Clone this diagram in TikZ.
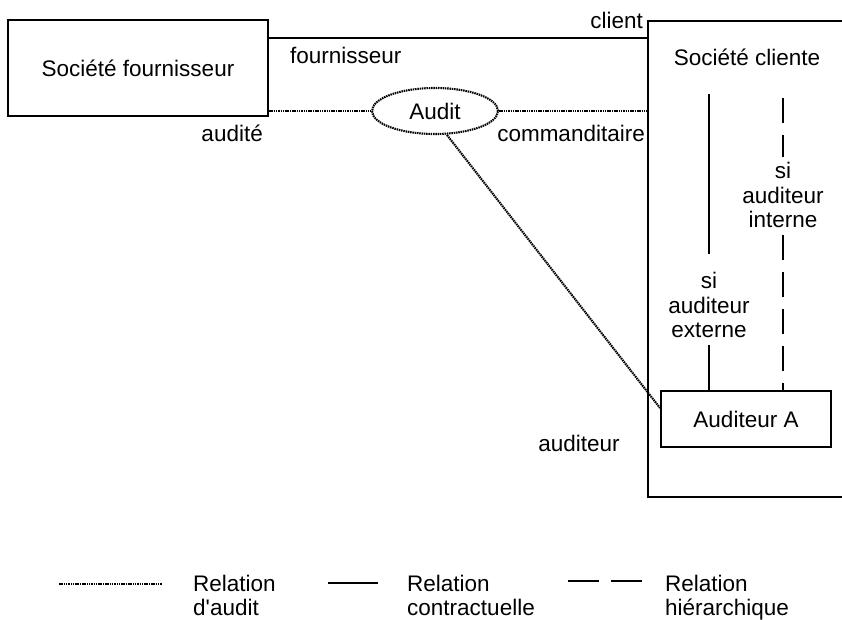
\documentclass[tikz,border=0pt]{standalone}
\usepackage{fontspec}
\setmainfont{Liberation Sans}
\usetikzlibrary{shapes.geometric,calc}
\begin{document}
\begin{tikzpicture}[x=1pt,y=-1pt,
  every node/.style={font=\fontsize{22.5}{24.5}\selectfont, text=black},
  box/.style={draw, line width=2pt, inner sep=0pt},
  contract/.style={line width=2pt},
  auditrel/.style={line width=2.1pt, dash pattern=on 1.5pt off 0.8pt},
  hier/.style={line width=2pt, dash pattern=on 25pt off 12pt},
  lbl/.style={inner sep=0pt},
  multi/.style={inner sep=0pt, align=center},
]
\useasboundingbox (0,0) rectangle (842,620);
\clip (0,0) rectangle (842,620);

% main nodes
\node[box, minimum width=260pt, minimum height=96pt] (four) at (138,68) {Société fournisseur};
\node[box, minimum width=212pt, minimum height=476pt] (cbox) at (754,259) {};
\node[lbl] (clabel) at (747,57) {Société cliente};
\node[ellipse, draw, auditrel, minimum width=126pt, minimum height=46pt, inner sep=0pt] (audit) at (435,111) {Audit};
\node[box, minimum width=170pt, minimum height=56pt] (audA) at (746,419) {Auditeur A};

% connectors
\coordinate (yc) at (0,38);
\coordinate (ya) at (0,111);
\draw[contract] (four.east |- yc) -- (cbox.west |- yc);
\draw[auditrel] (four.east |- ya) -- (audit.west);
\draw[auditrel] (audit.east) -- (cbox.west |- ya);
\draw[auditrel] ([xshift=12pt]audit.south) -- ([yshift=11pt]audA.west);

% role labels
\node[lbl, anchor=east] (lclient) at (643,20) {client};
\node[lbl, anchor=west] (lfour) at (290,55) {fournisseur};
\node[lbl, anchor=east] (laudite) at (263,133) {audité};
\node[lbl, anchor=east] (lcomm) at (645,133) {commanditaire};
\node[lbl] (lauditeur) at (579,443) {auditeur};

% vertical relations
\coordinate (topE) at (709,94);
\coordinate (topI) at (783,98);
\node[multi, anchor=north] (extA) at (709,272) {si\\auditeur\\externe};
\node[multi, anchor=north] (intA) at (783,162) {si\\auditeur\\interne};
\draw[contract] (topE) -- ([yshift=18pt]extA.north);
\draw[contract] ([yshift=-7pt]extA.south) -- (extA.south |- audA.north);
\draw[hier] (topI) -- ([yshift=5pt]intA.north);
\draw[hier] ([yshift=-7pt]intA.south) -- (intA.south |- audA.north);

% legend
\coordinate (d1) at (59,584);
\coordinate (d2) at (162,584);
\coordinate (c1) at (328,583);
\coordinate (c2) at (378,583);
\coordinate (h1) at (568,581);
\coordinate (h2) at (642,581);
\draw[auditrel] (d1) -- (d2);
\draw[contract] (c1) -- (c2);
\draw[line width=2pt, dash pattern=on 31pt off 12pt] (h1) -- (h2);
\begin{scope}[every node/.append style={font=\fontsize{22.5}{23.5}\selectfont}]
\node[multi, align=left, anchor=north west] (lg1) at (193,575) {Relation\\d\textquotesingle audit};
\node[multi, align=left, anchor=north west] (lg2) at (407,575) {Relation\\contractuelle};
\node[multi, align=left, anchor=north west] (lg3) at (665,575) {Relation\\hiérarchique};
\end{scope}
\end{tikzpicture}
\end{document}
